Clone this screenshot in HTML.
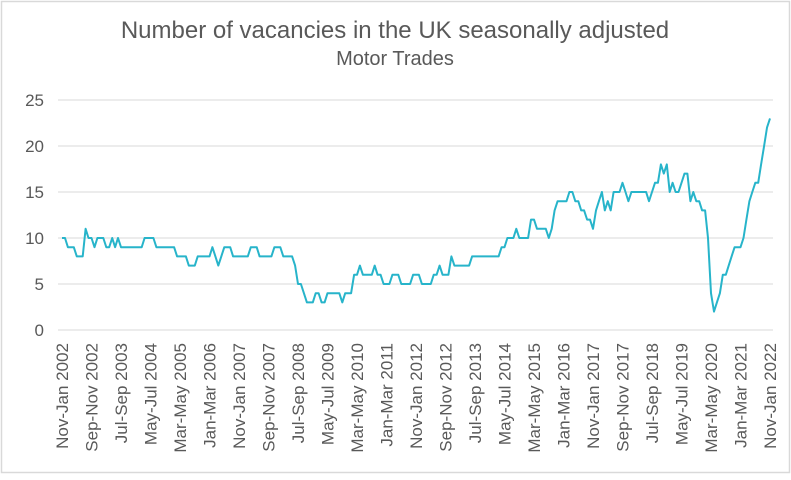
<!DOCTYPE html>
<html><head><meta charset="utf-8"><style>
body{margin:0;background:#fff;}
#wrap{position:relative;width:791px;height:475px;}
svg text{font-family:"Liberation Sans",sans-serif;fill:#595959;}
</style></head><body>
<div id="wrap">
<svg id="chart" width="791" height="475">
<rect x="1.5" y="1.5" width="788" height="471" fill="#fff" stroke="#d9d9d9" stroke-width="1.5"/>
<text x="395" y="38" font-size="24" text-anchor="middle">Number of vacancies in the UK seasonally adjusted</text>
<text x="395" y="65" font-size="20" text-anchor="middle">Motor Trades</text>
<g id="grid"></g><g id="yt"></g><g id="xt"></g><g id="series"></g>
</svg>
</div>
<script>
const yTicks=[0,5,10,15,20,25];
const xLabels=["Nov-Jan 2002","Sep-Nov 2002","Jul-Sep 2003","May-Jul 2004","Mar-May 2005","Jan-Mar 2006","Nov-Jan 2007","Sep-Nov 2007","Jul-Sep 2008","May-Jul 2009","Mar-May 2010","Jan-Mar 2011","Nov-Jan 2012","Sep-Nov 2012","Jul-Sep 2013","May-Jul 2014","Mar-May 2015","Jan-Mar 2016","Nov-Jan 2017","Sep-Nov 2017","Jul-Sep 2018","May-Jul 2019","Mar-May 2020","Jan-Mar 2021","Nov-Jan 2022"];
const vacancies=[10,10,9,9,9,8,8,8,
11,10,10,9,10,10,10,9,9,10,9,10,
9,9,9,9,9,9,9,9,
10,10,10,10,
9,9,9,9,9,9,9,
8,8,8,8,
7,7,7,
8,8,8,8,
8,9,8,7,8,9,9,9,8,
8,8,8,8,8,
9,9,9,
8,8,8,8,8,
9,9,9,
8,8,8,8,7,
5,5,4,3,3,3,
4,4,
3,3,4,
4,4,4,4,
3,
4,4,4,
6,6,7,6,6,6,6,7,6,6,
5,5,5,6,6,6,
5,5,5,5,6,6,6,5,5,5,5,6,6,7,6,6,6,8,
7,7,7,7,7,7,
8,8,8,8,8,8,8,8,8,8,
9,9,10,10,10,11,10,10,10,10,12,12,11,11,11,11,10,11,13,
14,14,14,14,15,15,14,14,13,13,12,12,11,
13,14,15,13,14,13,15,15,15,16,15,14,
15,15,15,15,15,15,14,15,16,16,18,17,18,
15,16,15,15,16,17,17,14,15,14,14,13,13,
10,4,2,3,4,6,6,7,8,9,9,9,10,12,14,15,16,16,18,20,22,23];
const X0=62,X1=770,Y0=330,YS=9.2;
const n=vacancies.length;
const xs=i=>X0+(X1-X0)*i/(n-1);
const ys=v=>Y0-v*YS;
const NS="http://www.w3.org/2000/svg";
const grid=document.getElementById('grid'),yt=document.getElementById('yt'),xt=document.getElementById('xt'),se=document.getElementById('series');
yTicks.forEach(t=>{
 const l=document.createElementNS(NS,'line');
 
 
 l.setAttribute('x1',58);l.setAttribute('x2',773);l.setAttribute('y1',ys(t));l.setAttribute('y2',ys(t));
 l.setAttribute('stroke','#d9d9d9');l.setAttribute('stroke-width','1');
 grid.appendChild(l);
 const tx=document.createElementNS(NS,'text');
 
 
 tx.setAttribute('x',44);tx.setAttribute('y',ys(t)+6);tx.setAttribute('text-anchor','end');tx.setAttribute('font-size','17');
 tx.textContent=t;yt.appendChild(tx);
});
xLabels.forEach((lab,k)=>{
 const x=X0+(X1-X0)*k/(xLabels.length-1);
 const tx=document.createElementNS(NS,'text');
 
 
 tx.setAttribute('transform','translate('+(x+6)+',343) rotate(-90)');
 tx.setAttribute('text-anchor','end');tx.setAttribute('font-size','17');
 tx.textContent=lab;xt.appendChild(tx);
});
let d='';
vacancies.forEach((v,i)=>{d+=(i?'L':'M')+xs(i).toFixed(1)+' '+ys(v).toFixed(1);});
const p=document.createElementNS(NS,'path');


p.setAttribute('d',d);p.setAttribute('fill','none');p.setAttribute('stroke','#27b4ca');p.setAttribute('stroke-width','2');p.setAttribute('stroke-linejoin','round');
se.appendChild(p);
</script>
</body></html>
